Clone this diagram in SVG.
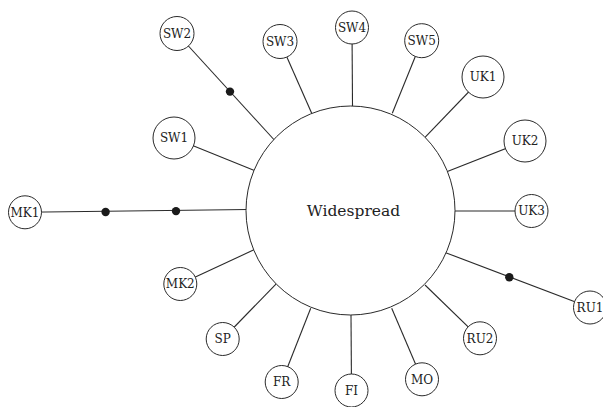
<svg xmlns="http://www.w3.org/2000/svg" width="603" height="407" viewBox="0 0 603 407">
<style>
.n{fill:#fff;stroke:#2a2a2a;stroke-width:1}
.e{stroke:#2a2a2a;stroke-width:1.1;fill:none}
.d{fill:#1a1a1a}
text{font-family:"DejaVu Serif","Liberation Serif",serif;fill:#222;text-anchor:middle}
.l{font-size:12px}
.c{font-size:15.5px}
</style>
<rect width="603" height="407" fill="#fff"/>
<g id="connectors">
<line class="e" x1="255" y1="170.7" x2="174" y2="138"/>
<line class="e" x1="274.3" y1="140" x2="177" y2="33.5"/>
<line class="e" x1="311.7" y1="113.3" x2="280" y2="41.5"/>
<line class="e" x1="352.5" y1="106" x2="352" y2="27.5"/>
<line class="e" x1="392.3" y1="113.3" x2="421.7" y2="40.7"/>
<line class="e" x1="425" y1="137.3" x2="483" y2="77"/>
<line class="e" x1="446.7" y1="171.7" x2="525" y2="141"/>
<line class="e" x1="455" y1="211" x2="531.5" y2="211"/>
<line class="e" x1="445.7" y1="252.7" x2="590" y2="307.5"/>
<line class="e" x1="425" y1="285" x2="480" y2="338.3"/>
<line class="e" x1="391.7" y1="308.3" x2="422" y2="379.3"/>
<line class="e" x1="351" y1="315" x2="351.5" y2="390.5"/>
<line class="e" x1="310.7" y1="308.3" x2="281.7" y2="382"/>
<line class="e" x1="276.7" y1="283.3" x2="222.7" y2="339"/>
<line class="e" x1="255" y1="249.3" x2="180.3" y2="284"/>
<line class="e" x1="248" y1="209.5" x2="25" y2="212.3"/>
<circle class="d" cx="230" cy="91.6" r="4.2"/>
<circle class="d" cx="105.6" cy="212" r="4.2"/>
<circle class="d" cx="176" cy="211.1" r="4.2"/>
<circle class="d" cx="509.3" cy="277.3" r="4.2"/>
</g>
<g id="Widespread"><circle class="n" cx="350.5" cy="210.5" r="104.5"/><text class="c" x="353.5" y="215.5">Widespread</text></g>
<g id="SW1"><circle class="n" cx="174" cy="138" r="21"/><text class="l" x="174" y="142.3">SW1</text></g>
<g id="SW2"><circle class="n" cx="177" cy="33.5" r="17"/><text class="l" x="177" y="37.8">SW2</text></g>
<g id="SW3"><circle class="n" cx="280" cy="41.5" r="17"/><text class="l" x="280" y="45.8">SW3</text></g>
<g id="SW4"><circle class="n" cx="352" cy="27.5" r="16.5"/><text class="l" x="352" y="31.8">SW4</text></g>
<g id="SW5"><circle class="n" cx="421.7" cy="40.7" r="17"/><text class="l" x="421.7" y="45">SW5</text></g>
<g id="UK1"><circle class="n" cx="483" cy="77" r="21"/><text class="l" x="483" y="81.3">UK1</text></g>
<g id="UK2"><circle class="n" cx="525" cy="141" r="21"/><text class="l" x="525" y="145.3">UK2</text></g>
<g id="UK3"><circle class="n" cx="531.5" cy="211" r="16.5"/><text class="l" x="531.5" y="215.3">UK3</text></g>
<g id="RU1"><circle class="n" cx="590" cy="307.5" r="16.5"/><text class="l" x="590" y="311.8">RU1</text></g>
<g id="RU2"><circle class="n" cx="480" cy="338.3" r="16.5"/><text class="l" x="480" y="342.6">RU2</text></g>
<g id="MO"><circle class="n" cx="422" cy="379.3" r="16.5"/><text class="l" x="422" y="383.6">MO</text></g>
<g id="FI"><circle class="n" cx="351.5" cy="390.5" r="16.5"/><text class="l" x="351.5" y="394.8">FI</text></g>
<g id="FR"><circle class="n" cx="281.7" cy="382" r="16.5"/><text class="l" x="281.7" y="386.3">FR</text></g>
<g id="SP"><circle class="n" cx="222.7" cy="339" r="16.5"/><text class="l" x="222.7" y="343.3">SP</text></g>
<g id="MK2"><circle class="n" cx="180.3" cy="284" r="16.5"/><text class="l" x="180.3" y="288.3">MK2</text></g>
<g id="MK1"><circle class="n" cx="25" cy="212.3" r="16.5"/><text class="l" x="25" y="216.6">MK1</text></g>
</svg>
